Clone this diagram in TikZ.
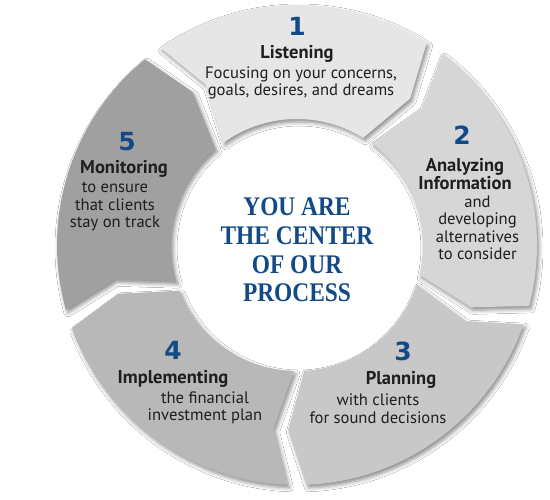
\documentclass[tikz,border=0pt]{standalone}
\usepackage{fontspec}
\setmainfont{PT Sans}
\newfontfamily\numfont{DejaVu Sans}
\newfontfamily\centerfont{Liberation Serif}
\usetikzlibrary{shadows.blur}
\definecolor{segone}{HTML}{E6E6E6}
\definecolor{segtwo}{HTML}{D6D6D6}
\definecolor{segthree}{HTML}{C8C8C8}
\definecolor{segfour}{HTML}{B8B8B8}
\definecolor{segfive}{HTML}{A0A0A0}
\definecolor{procblue}{HTML}{124A88}
\definecolor{txtgray}{HTML}{1E1E1E}
\def\segH{2.3}
\def\segA{5}
\def\segE{1}
\def\segRo{240pt}
\def\segRi{126pt}
\def\segRm{185pt}
\newcommand\ringseg[3]{%
  \path[fill=#1, segshadow] ({#2-\segH}:\segRo)
    arc[start angle={#2-\segH}, end angle={#3+\segH}, radius=\segRo]
    -- ({#3+\segH-\segA}:\segRm) -- ({#3+\segH+\segE}:\segRi)
    arc[start angle={#3+\segH+\segE}, end angle={#2-\segH+\segE}, radius=\segRi]
    -- ({#2-\segH-\segA}:\segRm) -- cycle;}
\tikzset{
  segshadow/.style={blur shadow={shadow xshift=2pt, shadow yshift=-3pt, shadow blur radius=4pt, shadow opacity=45}},
  num/.style={font=\numfont\bfseries\fontsize{25}{25}\selectfont, text=procblue, inner sep=0pt},
  ttl/.style={font=\bfseries\fontsize{18.5}{17.5}\selectfont, text=txtgray, align=center, inner sep=0pt},
  body/.style={font=\fontsize{16.6}{17.5}\selectfont, text=txtgray, align=center, inner sep=0pt},
  center text/.style={font=\centerfont\bfseries\fontsize{23.4}{28.7}\selectfont, text=procblue, align=center, inner sep=0pt}
}
\begin{document}
\begin{tikzpicture}[x=1pt,y=1pt]
\fill[white] (0,0) rectangle (550,500);
\useasboundingbox (0,0) rectangle (550,500);
\begin{scope}[shift={(297,255)}]
  \ringseg{segone}{127}{55}
  \ringseg{segtwo}{55}{-17}
  \ringseg{segthree}{-17}{-90}
  \ringseg{segfour}{-90}{-162}
  \ringseg{segfive}{198}{127}
\end{scope}
% step 1
\node[num] (n1) at (297,474) {1};
\node[ttl] (t1) at (297,446) {Listening};
\node[body] (b1) at (301,417) {Focusing on your concerns,\\goals, desires, and dreams};
% step 2
\node[num] (n2) at (462,365) {2};
\node[ttl] (t2) at (465,326) {Analyzing\\Information};
\node[body] (b2) at (477.5,272) {and\\developing\\alternatives\\to consider};
% step 3
\node[num] (n3) at (403,149) {3};
\node[ttl] (t3) at (401,120) {Planning};
\node[body] (b3) at (378,91.5) {with clients\\for sound decisions};
% step 4
\node[num] (n4) at (173,150) {4};
\node[ttl] (t4) at (173,121) {Implementing};
\node[body] (b4) at (205,92) {the financial\\investment plan};
% step 5
\node[num] (n5) at (127,358) {5};
\node[ttl] (t5) at (124,331) {Monitoring};
\node[body] (b5) at (115,293) {to ensure\\that clients\\stay on track};
% centre
\node[center text] (ctr) at (297,250) {\scalebox{1}[1.15]{YOU ARE}\\\scalebox{1}[1.15]{THE CENTER}\\\scalebox{1}[1.15]{OF OUR}\\\scalebox{1}[1.15]{PROCESS}};
\end{tikzpicture}
\end{document}
